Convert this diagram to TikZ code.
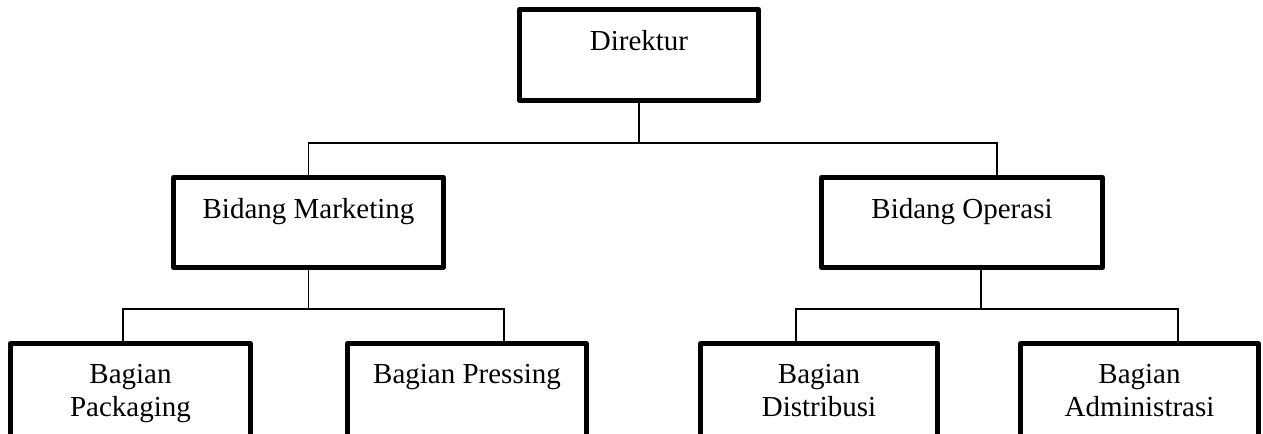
\documentclass[tikz,border=0pt]{standalone}
\usepackage{fontspec}
\setmainfont{Liberation Serif}
\usetikzlibrary{positioning}

\begin{document}
\begin{tikzpicture}[x=0.2mm, y=-0.2mm,
    unitbox/.style={draw, line width=1mm, line join=round, inner sep=0pt, outer sep=0pt},
    caption/.style={align=center, inner sep=0pt, font=\fontsize{16.5}{18.8}\selectfont},
    link/.style={draw, line width=0.8pt}
  ]

            \useasboundingbox (0,0) rectangle (1263,434);
            \clip (0,0) rectangle (1263,434);

            \coordinate (rowA) at (0,143);
            \coordinate (rowB) at (0,309);

            \node[unitbox, minimum width=47.8mm, minimum height=18.2mm] (direktur) at (639,55) {};
            \node[unitbox, minimum width=54mm, minimum height=18mm] (marketing) at (308.5,222.5) {};
            \node[unitbox, minimum width=56.2mm, minimum height=18mm] (operasi) at (962,222.5) {};

            \node[unitbox, minimum width=48mm, minimum height=24mm] (packaging) at (130.5,403.5) {};
            \node[unitbox, minimum width=47.8mm, minimum height=24mm] (pressing) at (467,403.5) {};
            \node[unitbox, minimum width=47.4mm, minimum height=24mm] (distribusi) at (819,403.5) {};
            \node[unitbox, minimum width=47.6mm, minimum height=24mm] (administrasi) at (1139.5,403.5) {};

            \node[caption, below=4.2mm of direktur.north] (direkturText) {Direktur};
            \node[caption, below=4.2mm of marketing.north] (marketingText) {Bidang Marketing};
            \node[caption, below=4.2mm of operasi.north] (operasiText) {Bidang Operasi};
            \node[caption, below=4mm of packaging.north] (packagingText) {Bagian\\Packaging};
            \node[caption, below=4mm of pressing.north] (pressingText) {Bagian Pressing};
            \node[caption, below=4mm of distribusi.north] (distribusiText) {Bagian\\Distribusi};
            \node[caption, below=4mm of administrasi.north] (administrasiText) {Bagian\\Administrasi};

            \draw[link] (direktur.south) -- (direktur.south |- rowA);
            \draw[link] (marketing.north) |- ([xshift=7mm]operasi.north |- rowA) -- ([xshift=7mm]operasi.north);

            \draw[link] (marketing.south) -- (marketing.south |- rowB);
            \draw[link] ([xshift=-1.5mm]packaging.north) |- ([xshift=7.4mm]pressing.north |- rowB) -- ([xshift=7.4mm]pressing.north);

            \draw[link] ([xshift=3.8mm]operasi.south) -- ([xshift=3.8mm]operasi.south |- rowB);
            \draw[link] ([xshift=-4.6mm]distribusi.north) |- ([xshift=7.7mm]administrasi.north |- rowB) -- ([xshift=7.7mm]administrasi.north);

        \end{tikzpicture}
\end{document}
